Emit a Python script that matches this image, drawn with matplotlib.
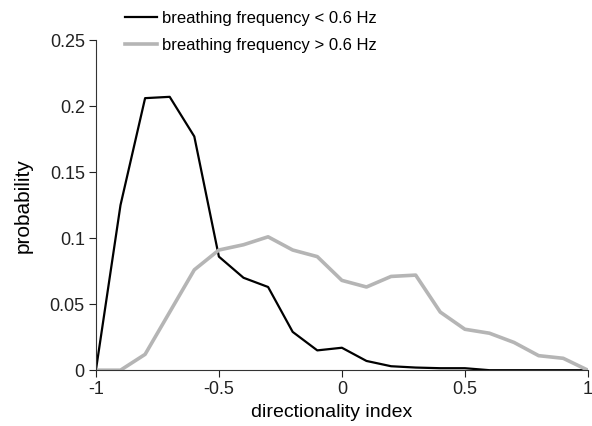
import numpy as np
from matplotlib import pyplot as plt

plt.rcParams['font.family'] = ['Liberation Sans', 'DejaVu Sans']

# directionality index bins
di = [-1.0, -0.9, -0.8, -0.7, -0.6, -0.5, -0.4, -0.3, -0.2, -0.1, 0.0,
      0.1, 0.2, 0.3, 0.4, 0.5, 0.6, 0.7, 0.8, 0.9, 1.0]

# probability, breathing frequency < 0.6 Hz
p_slow = [0.0, 0.125, 0.206, 0.207, 0.177, 0.086, 0.070, 0.063, 0.029, 0.015, 0.017,
          0.007, 0.003, 0.002, 0.0015, 0.0015, 0.0, 0.0, 0.0, 0.0, 0.0]

# probability, breathing frequency > 0.6 Hz
p_fast = [0.0, 0.0, 0.012, 0.044, 0.076, 0.091, 0.095, 0.101, 0.091, 0.086, 0.068,
          0.063, 0.071, 0.072, 0.044, 0.031, 0.028, 0.021, 0.011, 0.009, 0.0]

xticks = [-1, -0.5, 0, 0.5, 1]
xtick_labels = ["-1", "-0.5", "0", "0.5", "1"]
yticks = [0, 0.05, 0.1, 0.15, 0.2, 0.25]
ytick_labels = ["0", "0.05", "0.1", "0.15", "0.2", "0.25"]

fig = plt.figure(figsize=(5.92, 4.26), dpi=100)
ax = fig.add_axes([0.162, 0.131, 0.831, 0.775])

ax.plot(di, p_slow, color="black", linewidth=1.6, label="breathing frequency < 0.6 Hz")
ax.plot(di, p_fast, color="#b5b5b5", linewidth=2.6, label="breathing frequency > 0.6 Hz")

ax.set_xlim(-1, 1)
ax.set_ylim(0, 0.25)
ax.set_xticks(xticks)
ax.set_xticklabels(xtick_labels)
ax.set_yticks(yticks)
ax.set_yticklabels(ytick_labels)
ax.tick_params(direction="out", length=5, labelsize=13, colors="#222222", pad=3)
ax.spines["top"].set_visible(False)
ax.spines["right"].set_visible(False)
ax.spines["left"].set_color("#333333")
ax.spines["bottom"].set_color("#333333")
ax.set_xlabel("directionality index", fontsize=14)
ax.set_ylabel("probability", fontsize=15)
ax.xaxis.set_label_coords(0.48, -0.103)
ax.yaxis.set_label_coords(-0.128, 0.5)

leg = fig.legend(loc="upper left", bbox_to_anchor=(0.186, 1.01), frameon=False,
                 fontsize=12, handlelength=1.9, handletextpad=0.3, labelspacing=0.75)

plt.savefig("out.png", dpi=100)
